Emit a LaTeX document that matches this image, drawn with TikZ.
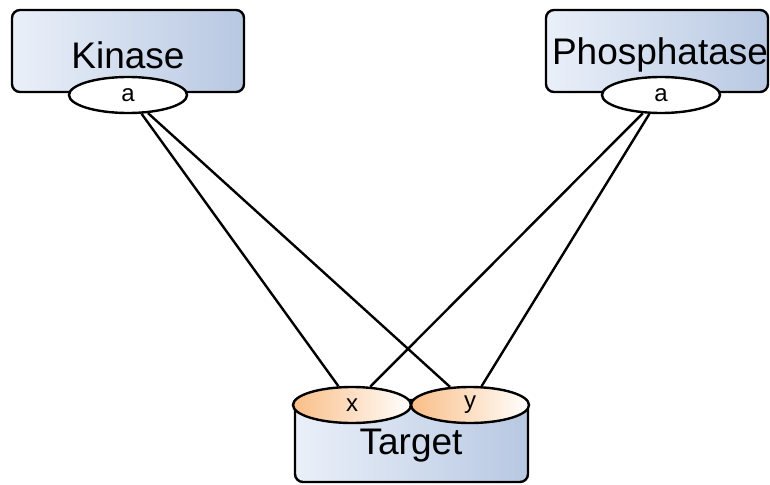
\documentclass[tikz,border=0pt]{standalone}
\usepackage{fontspec}
\setmainfont{Liberation Sans}
\usetikzlibrary{shapes.geometric}
\definecolor{boxleft}{RGB}{234,240,249}
\definecolor{boxright}{RGB}{184,200,226}
\definecolor{siteorange}{RGB}{250,190,135}
\tikzset{
  protein/.style={draw, line width=2.4pt, rounded corners=8pt, inner sep=0pt,
    left color=boxleft, right color=boxright},
  proteinlabel/.style={font=\fontsize{37}{42}\selectfont, inner sep=0pt},
  site/.style={draw, ellipse, line width=2.4pt, inner sep=0pt,
    minimum width=118pt, minimum height=36pt, fill=white,
    font=\fontsize{24}{27}\selectfont},
  targetsite/.style={site, fill=none, left color=siteorange, right color=white},
  link/.style={line width=2.4pt}
}
\begin{document}
\begin{tikzpicture}[x=1pt, y=-1pt]
  \useasboundingbox (0,0) rectangle (770,484);
  % enzyme boxes
  \node[protein, minimum width=232pt, minimum height=82pt] (kin) at (128,51) {};
  \node[proteinlabel] (kinlab) at (128,55) {Kinase};
  \node[protein, minimum width=222pt, minimum height=82pt] (pho) at (657,51) {};
  \node[proteinlabel] (pholab) at (660,55) {Phosphatase};
  % target box
  \node[protein, minimum width=233pt, minimum height=82pt] (tgt) at (411.5,441) {};
  \node[proteinlabel] (tgtlab) at (411,446) {Target};
  % binding sites
  \node[site] (ka) at (128,95) {a};
  \node[site] (pa) at (661,95) {a};
  \node[targetsite] (tx) at (352,405) {x};
  \node[targetsite] (ty) at (470,405) {y};
  % interactions
  \draw[link] (ka) -- (tx);
  \draw[link] (ka) -- (ty);
  \draw[link] (pa) -- (tx);
  \draw[link] (pa) -- (ty);
\end{tikzpicture}
\end{document}
